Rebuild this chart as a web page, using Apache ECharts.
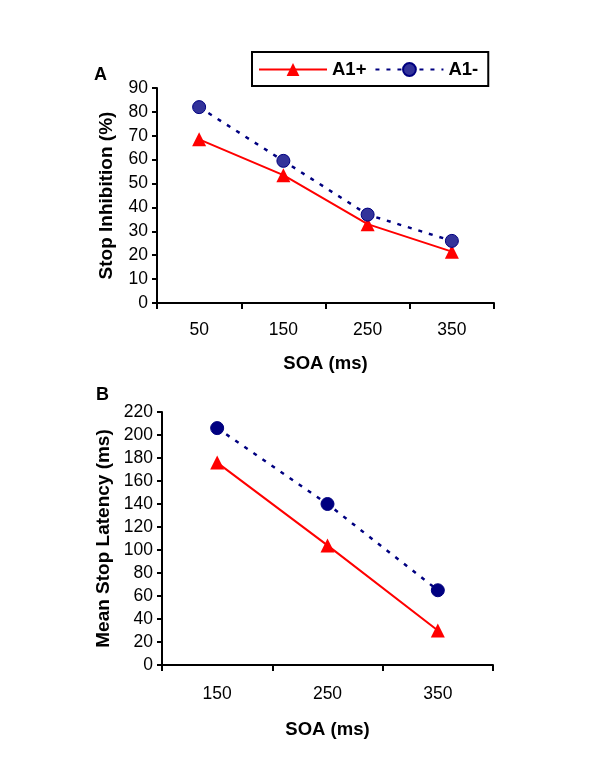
<!DOCTYPE html>
<html>
<head>
<meta charset="utf-8">
<script src="https://cdn.jsdelivr.net/npm/echarts@6/dist/echarts.min.js"></script>
<style>
    html, body { margin: 0; padding: 0; background: #fff; }
    #chart { width: 600px; height: 776px; }
</style>
</head>
<body>
<div id="chart"></div>
<script>
// panel A: stop inhibition (%)
const soaA = ['50', '150', '250', '350'];
const a1PlusA = [68.5, 53.5, 33, 21.5];
const a1MinusA = [82, 59.5, 37, 26];

// panel B: mean stop latency (ms)
const soaB = ['150', '250', '350'];
const a1PlusB = [176, 104, 30];
const a1MinusB = [206, 140, 65];

const seriesNames = ['A1+', 'A1-'];
const fontFamily = '"Liberation Sans", Arial, sans-serif';
const red = '#ff0000';
const navy = '#000080';

function valueAxis(gridIndex, max, interval, name, gap) {
    return {
        type: 'value',
        gridIndex: gridIndex,
        min: 0,
        max: max,
        interval: interval,
        name: name,
        nameLocation: 'middle',
        nameGap: gap,
        nameTextStyle: { color: '#000', fontSize: 19, fontWeight: 'bold', fontFamily: fontFamily },
        axisLine: { show: true, lineStyle: { color: '#000', width: 2 } },
        axisTick: { show: true, length: 5, lineStyle: { color: '#000', width: 2 } },
        axisLabel: { color: '#000', fontSize: 17.5, fontFamily: fontFamily, margin: 9 },
        splitLine: { show: false }
    };
}

function categoryAxis(gridIndex, data, labelMargin, nameGap) {
    return {
        type: 'category',
        gridIndex: gridIndex,
        data: data,
        boundaryGap: true,
        name: 'SOA (ms)',
        nameLocation: 'middle',
        nameGap: nameGap,
        nameTextStyle: { color: '#000', fontSize: 18.5, fontWeight: 'bold', fontFamily: fontFamily },
        axisLine: { lineStyle: { color: '#000', width: 2 } },
        axisTick: { show: true, length: 6, lineStyle: { color: '#000', width: 2 } },
        axisLabel: { color: '#000', fontSize: 17.5, fontFamily: fontFamily, margin: labelMargin }
    };
}

function plusSeries(index, data) {
    return {
        name: seriesNames[0],
        type: 'line',
        xAxisIndex: index,
        yAxisIndex: index,
        data: data,
        symbol: 'triangle',
        symbolSize: 14,
        lineStyle: { color: red, width: 2 },
        itemStyle: { color: red, borderWidth: 0 },
        z: 3
    };
}

function minusSeries(index, data, fill) {
    return {
        name: seriesNames[1],
        type: 'line',
        xAxisIndex: index,
        yAxisIndex: index,
        data: data,
        symbol: 'circle',
        symbolSize: 13,
        lineStyle: { color: navy, width: 2.5, type: [4, 7] },
        itemStyle: { color: fill, borderColor: navy, borderWidth: 1 },
        z: 4
    };
}

const chart = echarts.init(document.getElementById('chart'));

const option = {
    backgroundColor: '#fff',
    animation: false,
    textStyle: { fontFamily: fontFamily },
    legend: {
        data: seriesNames,
        left: 252,
        top: 52,
        padding: [8, 10, 7, 6],
        itemWidth: 68,
        itemHeight: 16,
        itemGap: 8,
        borderColor: '#000',
        borderWidth: 2,
        borderRadius: 0,
        textStyle: { color: '#000', fontSize: 18.5, fontWeight: 'bold', fontFamily: fontFamily }
    },
    graphic: [
        { type: 'text', left: 94, top: 66, style: { text: 'A', fontSize: 18, fontWeight: 'bold', fontFamily: fontFamily, fill: '#000' } },
        { type: 'text', left: 96, top: 386, style: { text: 'B', fontSize: 18, fontWeight: 'bold', fontFamily: fontFamily, fill: '#000' } }
    ],
    grid: [
        { left: 157, top: 88, width: 337, height: 215 },
        { left: 162, top: 412, width: 331, height: 253 }
    ],
    xAxis: [
        categoryAxis(0, soaA, 18, 51),
        categoryAxis(1, soaB, 20, 55)
    ],
    yAxis: [
        valueAxis(0, 90, 10, 'Stop Inhibition (%)', 41),
        valueAxis(1, 220, 20, 'Mean Stop Latency (ms)', 49)
    ],
    series: [
        plusSeries(0, a1PlusA),
        minusSeries(0, a1MinusA, '#33339a'),
        plusSeries(1, a1PlusB),
        minusSeries(1, a1MinusB, navy)
    ]
};

chart.setOption(option);
</script>
</body>
</html>
